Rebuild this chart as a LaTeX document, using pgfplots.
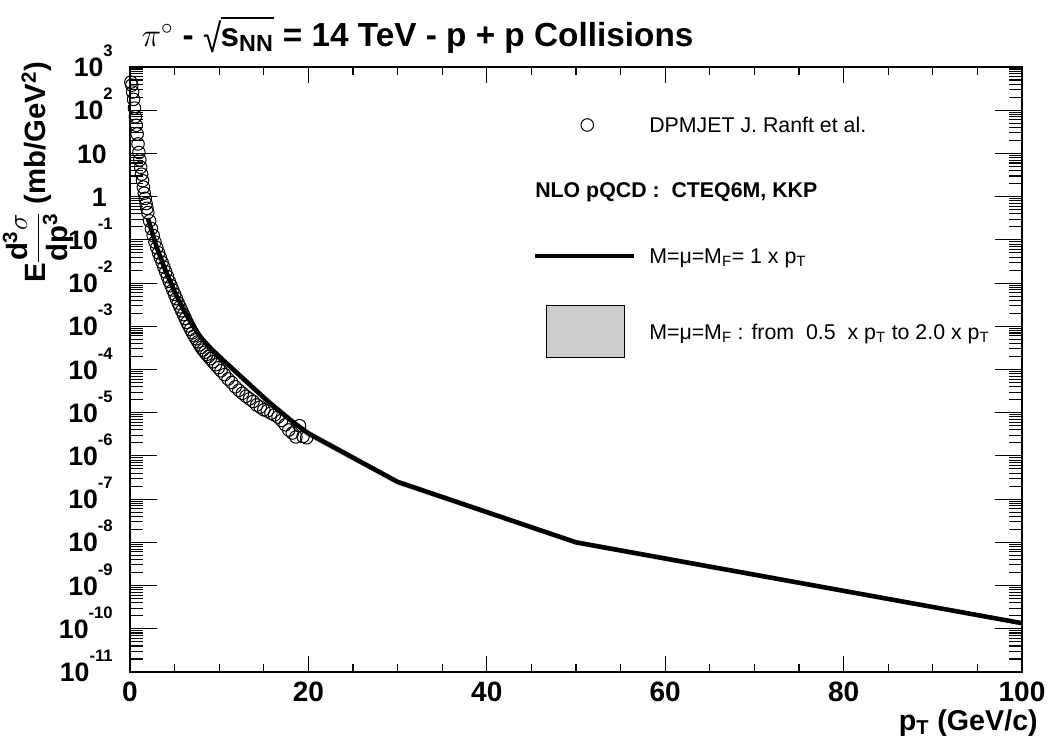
\documentclass[border=0pt]{standalone}
\usepackage{fontspec}
\setmainfont{Liberation Sans}
\usepackage{amsmath}
\usepackage{pgfplots}
\usepackage{pgfplotstable}
\pgfplotsset{compat=1.18}
\usepgfplotslibrary{fillbetween}

% DPMJET points (pT, E d3sigma/dp3)
\pgfplotstableread{
pt y
0.1 447
0.2 380
0.3 263
0.4 178
0.5 112
0.6 70.8
0.7 44.7
0.8 28.2
0.9 16.6
1.0 10.5
1.1 7.08
1.2 4.79
1.3 3.31
1.4 2.34
1.5 1.66
1.6 1.20
1.7 0.912
1.8 0.692
1.9 0.537
2.0 0.427
2.2 0.275
2.4 0.182
2.6 0.126
2.8 0.0891
3.0 0.0661
3.2 0.0501
3.4 0.0389
3.6 0.0302
3.8 0.0234
4.0 0.0182
4.2 0.0141
4.4 0.0110
4.6 8.71e-3
4.8 6.92e-3
5.0 5.50e-3
5.2 4.37e-3
5.4 3.47e-3
5.6 2.82e-3
5.8 2.29e-3
6.0 1.86e-3
6.2 1.51e-3
6.4 1.23e-3
6.6 1.02e-3
6.8 8.51e-4
7.0 7.08e-4
7.2 6.03e-4
7.4 5.13e-4
7.6 4.37e-4
7.8 3.72e-4
8.0 3.24e-4
8.2 2.82e-4
8.4 2.51e-4
8.6 2.24e-4
8.8 2.00e-4
9.0 1.78e-4
9.3 1.51e-4
9.6 1.29e-4
9.9 1.10e-4
10.2 9.33e-5
10.6 7.59e-5
11.0 6.03e-5
11.4 5.01e-5
11.8 3.98e-5
12.2 3.31e-5
12.6 2.82e-5
13.0 2.40e-5
13.4 2.09e-5
13.8 1.82e-5
14.2 1.51e-5
14.6 1.35e-5
15.0 1.17e-5
15.4 1.10e-5
15.8 9.77e-6
16.2 8.91e-6
16.6 7.94e-6
17.0 6.61e-6
17.4 5.25e-6
17.8 3.98e-6
18.2 3.39e-6
18.6 2.75e-6
19.0 5.01e-6
19.4 2.82e-6
19.8 2.63e-6
}\dpmjet

% NLO pQCD, central scale and scale band
\pgfplotstableread{
pt y lo hi
2 0.316 0.262 0.379
3 0.0661 0.0549 0.0793
4 0.0191 0.0159 0.0229
5 6.31e-3 5.24e-3 7.57e-3
6 2.40e-3 1.99e-3 2.88e-3
7 1.05e-3 8.70e-4 1.26e-3
8 5.37e-4 4.46e-4 6.44e-4
9 3.16e-4 2.62e-4 3.79e-4
10 2.00e-4 1.66e-4 2.40e-4
11 1.29e-4 1.07e-4 1.55e-4
12 8.32e-5 6.91e-5 9.98e-5
13 5.37e-5 4.46e-5 6.44e-5
14 3.47e-5 2.88e-5 4.16e-5
15 2.24e-5 1.86e-5 2.69e-5
16 1.48e-5 1.23e-5 1.78e-5
17 1.00e-5 8.30e-6 1.20e-5
18 6.76e-6 5.61e-6 8.11e-6
19 4.68e-6 3.88e-6 5.62e-6
20 3.31e-6 2.75e-6 3.97e-6
30 2.51e-7 2.13e-7 2.89e-7
50 1.00e-8 8.70e-9 1.15e-8
100 1.35e-10 1.20e-10 1.50e-10
}\nlo

\newcommand{\tp}[1]{10\raisebox{15pt}{\fontsize{12.5}{13}\selectfont\bfseries #1}}

\begin{document}
\begin{tikzpicture}
\begin{axis}[
    at={(0pt,0pt)}, anchor=south west,
    scale only axis, width=669pt, height=453.75pt,
    xmin=0, xmax=100, ymin=1e-11, ymax=1e3, ymode=log,
    clip mode=individual,
    axis line style={line width=1.1pt},
    xtick={0,20,40,60,80,100}, xticklabels={0,20,40,60,80,100},
    minor x tick num=3,
    ytick={1e-11,1e-10,1e-9,1e-8,1e-7,1e-6,1e-5,1e-4,1e-3,1e-2,1e-1,1,10,100,1000},
    yticklabels={\tp{-11},\tp{-10},\tp{-9},\tp{-8},\tp{-7},\tp{-6},\tp{-5},\tp{-4},\tp{-3},\tp{-2},\tp{-1},1\hspace*{4.5pt},10\hspace*{4.5pt},\tp{2},\tp{3}},
    tick align=inside,
    tick style={black, line width=0.8pt},
    major tick length=20pt, minor tick length=10pt,
    xtick style={/pgfplots/major tick length=12pt, /pgfplots/minor tick length=6pt},
    xticklabel style={font=\fontsize{21}{24}\selectfont\bfseries, inner sep=0pt, yshift=-7pt},
    yticklabel style={font=\fontsize{20}{24}\selectfont\bfseries, anchor=base east, inner sep=0pt, xshift=-12.75pt, yshift=-7.2pt},
    legend style={at={(0.4518,0.9835)}, anchor=north west, draw=none, fill=none,
        inner sep=0pt, outer sep=0pt, row sep=0pt, column sep=0pt,
        nodes={inner sep=0pt, text depth=0pt}, font=\fontsize{16}{18}\selectfont},
    legend cell align=left,
]
\addplot[name path=hi, draw=none, forget plot] table[x=pt, y=hi] {\nlo};
\addplot[name path=lo, draw=none, forget plot] table[x=pt, y=lo] {\nlo};
\addplot[gray!40, forget plot] fill between[of=hi and lo];
\addplot[only marks, mark=o, mark size=4.7pt, mark options={black, line width=0.75pt}, forget plot] table[x=pt, y=y] {\dpmjet};
\addplot[black, line width=3.4pt, forget plot] table[x=pt, y=y] {\nlo};

\addlegendimage{legend image code/.code={\draw[black, line width=0.75pt] (39pt,0pt) circle (4.7pt); \path[draw=none, fill=none] (0pt,-36pt) rectangle (85.5pt,36pt);}}
\addlegendentry{DPMJET J. Ranft et al.}
\addlegendimage{legend image code/.code={\path[draw=none, fill=none] (0pt,-12.75pt) rectangle (85.5pt,12.75pt); \node[overlay, anchor=west, inner sep=0pt, font=\fontsize{16}{18}\selectfont\bfseries] at (0pt,0pt) {NLO pQCD :\ \ CTEQ6M, KKP};}}
\addlegendentry{}
\addlegendimage{legend image code/.code={\draw[black, line width=3.4pt] (0pt,0pt) -- (74pt,0pt); \path[draw=none, fill=none] (0pt,-36.75pt) rectangle (85.5pt,36.75pt);}}
\addlegendentry{M=μ=M\textsubscript{F}= 1 x p\textsubscript{T}}
\addlegendimage{legend image code/.code={\draw[black, line width=0.9pt, fill=gray!40] (8.25pt,-19.5pt) rectangle (66.75pt,19.5pt); \path[draw=none, fill=none] (0pt,-19.5pt) rectangle (85.5pt,19.5pt);}}
\addlegendentry{M=μ=M\textsubscript{F} : from~ 0.5~ x p\textsubscript{T} to 2.0 x p\textsubscript{T}}
\end{axis}

\node[anchor=base west, inner sep=0pt, font=\fontsize{25}{28}\selectfont\bfseries] at (8.5pt,469pt)
    {$\pi^{\circ}$ - {\mdseries\raisebox{-0.18em}{\scalebox{1}[1.2]{√}}}\kern-0.5pt{\sbox0{s\textsubscript{NN}}\rlap{\rule[0.82em]{\wd0}{0.06em}}\usebox0} = 14 TeV - p + p Collisions};
\node[rotate=90, anchor=east, inner sep=0pt, font=\fontsize{22}{26}\selectfont\bfseries] at (-69pt,458pt)
    {E$\dfrac{\text{d\textsuperscript{3}}\sigma}{\text{dp\textsuperscript{3}}}$ (mb/GeV\textsuperscript{2})};
\node[anchor=base east, inner sep=0pt, font=\fontsize{21.5}{24}\selectfont\bfseries] at (681pt,-43.5pt)
    {p\textsubscript{T} (GeV/c)};
\pgfresetboundingbox
\path[use as bounding box] (-97.5pt,-51pt) rectangle (690pt,504pt);
\end{tikzpicture}
\end{document}
